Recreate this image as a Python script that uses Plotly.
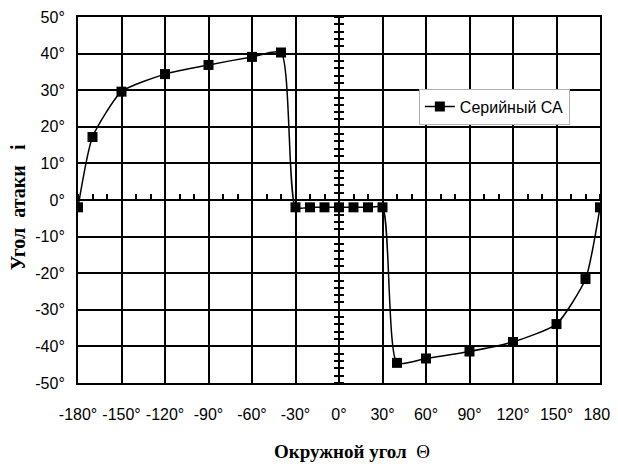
import plotly.graph_objects as go

# Data
theta = [-180, -170, -150, -120, -90, -60, -40, -30, -20, -10, 0, 10, 20, 30,
         40, 60, 90, 120, 150, 170, 180]
attack = [-2.0, 17.2, 29.6, 34.4, 36.9, 39.1, 40.3, -2.0, -2.0, -2.0, -2.0, -2.0, -2.0, -2.0,
          -44.5, -43.3, -41.4, -38.8, -33.9, -21.6, -2.0]
series_name = "Серийный СА"

x_ticks = [-180, -150, -120, -90, -60, -30, 0, 30, 60, 90, 120, 150, 180]
y_ticks = [-50, -40, -30, -20, -10, 0, 10, 20, 30, 40, 50]
x_tick_text = [f"{v}°" for v in x_ticks]
y_tick_text = [f"{v}°" for v in y_ticks]

x_title = "<b>Окружной угол</b>\u00a0 Θ"
y_title = "<b>Угол\u00a0 атаки\u00a0\u00a0 i</b>"

tick_font = dict(family="Liberation Sans, Arial, sans-serif", size=16, color="black")
title_font = dict(family="Liberation Serif, Times New Roman, serif", size=19, color="black")
ytitle_font = dict(family="Liberation Serif, Times New Roman, serif", size=20, color="black")

fig = go.Figure()

fig.add_trace(go.Scatter(
    x=theta, y=attack, name=series_name, mode="lines+markers",
    line=dict(color="black", width=1.5, shape="spline", smoothing=0.55),
    marker=dict(symbol="square", size=10, color="black"),
))

# helper (empty) traces so the zero-crossing axes are drawn
fig.add_trace(go.Scatter(x=[None], y=[None], xaxis="x2", yaxis="y2",
                         showlegend=False, hoverinfo="skip"))
fig.add_trace(go.Scatter(x=[None], y=[None], xaxis="x2", yaxis="y3",
                         showlegend=False, hoverinfo="skip"))

# the page body has an 8px margin, so the figure is 8px smaller than the window
fig.update_layout(
    width=610, height=456,
    margin=dict(l=70, r=18, t=9, b=81),
    paper_bgcolor="white", plot_bgcolor="white",
    showlegend=True,
    legend=dict(x=0.653, y=0.755, xanchor="left", yanchor="middle",
                bgcolor="white", bordercolor="#b0b0b0", borderwidth=1,
                font=dict(family="Liberation Sans, Arial, sans-serif", size=16, color="black")),
    xaxis=dict(range=[-180, 180], tickvals=x_ticks, ticktext=x_tick_text,
               showgrid=True, gridcolor="black", gridwidth=1.5,
               showline=True, mirror=True, linecolor="black", linewidth=2,
               zeroline=False, ticks="", tickfont=tick_font, ticklabelstandoff=16,
               automargin=False),
    yaxis=dict(range=[-50, 50], tickvals=y_ticks, ticktext=y_tick_text,
               showgrid=True, gridcolor="black", gridwidth=1.5,
               showline=True, mirror=True, linecolor="black", linewidth=2,
               zeroline=False, ticks="", tickfont=tick_font, ticklabelstandoff=8,
               automargin=False),
    xaxis2=dict(overlaying="x", anchor="free", position=0.5, side="top",
                range=[-180, 180], tick0=0, dtick=10, ticks="outside", ticklen=5,
                tickwidth=1.5, tickcolor="black", showline=True, linecolor="black",
                linewidth=1.5, showgrid=False, zeroline=False, showticklabels=False,
                automargin=False),
    yaxis2=dict(overlaying="y", anchor="free", position=0.5, side="left",
                range=[-50, 50], tick0=0, dtick=2, ticks="outside", ticklen=4,
                tickwidth=1.5, tickcolor="black", showline=True, linecolor="black",
                linewidth=1.5, showgrid=False, zeroline=False, showticklabels=False,
                automargin=False),
    yaxis3=dict(overlaying="y", anchor="free", position=0.5, side="right",
                range=[-50, 50], tick0=0, dtick=2, ticks="outside", ticklen=4,
                tickwidth=1.5, tickcolor="black", showline=False,
                showgrid=False, zeroline=False, showticklabels=False,
                automargin=False),
    annotations=[
        dict(text=x_title, xref="paper", yref="paper", x=0.524, y=-0.1885,
             xanchor="center", yanchor="middle", showarrow=False, font=title_font),
        dict(text=y_title, xref="paper", yref="paper", x=-0.115, y=0.48,
             xanchor="center", yanchor="middle", showarrow=False, textangle=-90,
             font=ytitle_font),
    ],
)

fig.write_html("out.html")
